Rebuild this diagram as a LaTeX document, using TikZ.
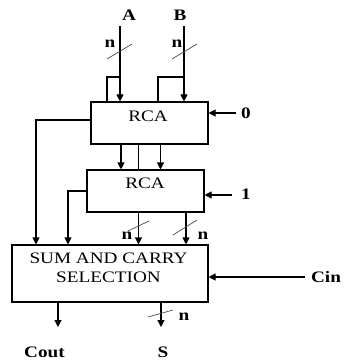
\documentclass[tikz,border=0pt]{standalone}
\usepackage{fontspec}
\setmainfont{Liberation Serif}[FakeStretch=1.2]
\usetikzlibrary{arrows.meta}

\begin{document}
\begin{tikzpicture}[x=1pt, y=-1pt, >={Triangle[length=7pt, width=7pt]}, line width=1.1pt,
    font=\fontsize{16}{19}\selectfont]

    \useasboundingbox (0,0) rectangle (345,362);

    % Blok (kotak)
    \node[draw, minimum width=117pt, minimum height=42pt] (rca1) at (149.5,123) {};
    \node[draw, minimum width=117pt, minimum height=42pt] (rca2) at (145.5,191) {};
    \node[draw, minimum width=196pt, minimum height=57pt] (sum) at (110,273.5) {};

    % Tulisan di dalam blok
    \node (rca1t) at (148,116) {RCA};
    \node (rca2t) at (145,183) {RCA};
    \node[align=center] (sumt) at (108.5,267.5) {SUM AND CARRY\\SELECTION};

    % Label masukan dan keluaran (tebal)
    \node (la) at (129,15) {\textbf{A}};
    \node (lb) at (180,15) {\textbf{B}};
    \node (lzero) at (246,113) {\textbf{0}};
    \node (lone) at (246,194) {\textbf{1}};
    \node (lcin) at (326,277) {\textbf{Cin}};
    \node (lcout) at (44.5,352.5) {\textbf{Cout}};
    \node (ls) at (163,352.5) {\textbf{S}};

    % Label lebar bus
    \node (na) at (110,44) {\textbf{n}};
    \node (nb) at (177,44) {\textbf{n}};
    \node (nc) at (127,236) {\textbf{n}};
    \node (nd) at (203,236) {\textbf{n}};
    \node (ns) at (184,317) {\textbf{n}};

    % Ujung bebas
    \coordinate (ain) at (120,26);
    \coordinate (bin) at (184,26);
    \coordinate (abr) at (120,77);
    \coordinate (bbr) at (184,77);
    \coordinate (zin) at (236,113);
    \coordinate (oin) at (232,195);
    \coordinate (cin) at (305,277);
    \coordinate (cout) at (58,327);
    \coordinate (sout) at (161,327);

    % Masukan A dan B
    \draw[->] (ain) -- (ain |- rca1.north);
    \draw[->] (bin) -- (bin |- rca1.north);
    \draw (abr) -| (107,0 |- rca1.north);
    \draw (bbr) -| (158,0 |- rca1.north);

    % Carry masuk
    \draw[->] (zin) -- (zin -| rca1.east);
    \draw[->] (oin) -- (oin -| rca2.east);
    \draw[->] (cin) -- (cin -| sum.east);

    % RCA pertama ke RCA kedua
    \draw[->] (121,0 |- rca1.south) -- (121,0 |- rca2.north);
    \draw (138.5,0 |- rca1.south) -- (138.5,0 |- rca2.north);
    \draw[->] (160.5,0 |- rca1.south) -- (160.5,0 |- rca2.north);

    % Ke blok seleksi
    \draw[->] ([yshift=3pt]rca1.west) -| (36,0 |- sum.north);
    \draw[->] (rca2.west) -| (68,0 |- sum.north);
    \draw[->] (138.5,0 |- rca2.south) -- (138.5,0 |- sum.north);
    \draw[->] (186,0 |- rca2.south) -- (186,0 |- sum.north);

    % Keluaran
    \draw[->] (cout |- sum.south) -- (cout);
    \draw[->] (sout |- sum.south) -- (sout);

    % Garis miring bus
    \draw[line width=0.7pt, black!70] (107,59) -- (132,44);
    \draw[line width=0.7pt, black!70] (172,59) -- (197,44);
    \draw[line width=0.7pt, black!70] (128,231) -- (149,221);
    \draw[line width=0.7pt, black!70] (173,235) -- (197,220);
    \draw[line width=0.7pt, black!70] (148,317) -- (173,310);

\end{tikzpicture}
\end{document}
